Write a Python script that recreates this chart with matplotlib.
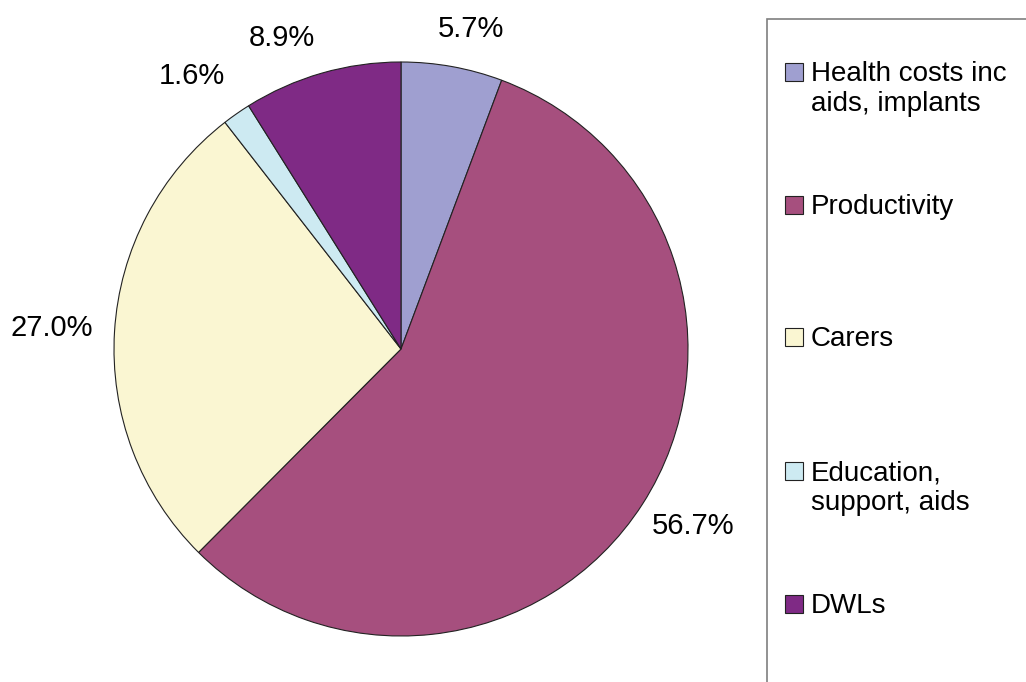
import matplotlib.pyplot as plt
import numpy as np
from matplotlib.patches import Rectangle

plt.rcParams["font.family"] = ["Liberation Sans", "DejaVu Sans"]

categories = ["Health costs inc\naids, implants", "Productivity", "Carers",
              "Education,\nsupport, aids", "DWLs"]
shares = [5.7, 56.7, 27.0, 1.6, 8.9]
colors = ["#9f9fd0", "#a64f7e", "#faf6d2", "#cdeaf2", "#7f2a85"]
# label placement: radius multiple and angular nudge (degrees) per wedge
label_dist = [1.14, 1.19, 1.22, 1.20, 1.16]
label_nudge = [-2.0, 1.5, 0.0, 2.5, 5.0]
# legend entry first-line vertical centres (pixels from top)
legend_y = [72, 205, 337, 471, 604]

W, H = 1026, 682
fig = plt.figure(figsize=(W / 100, H / 100), dpi=100)
cx, cy, r = 401, 349, 287
ax = fig.add_axes([(cx - r) / W, 1 - (cy + r) / H, 2 * r / W, 2 * r / H])
wedges, _ = ax.pie(shares, colors=colors, startangle=90, counterclock=False,
                   wedgeprops=dict(edgecolor="#222222", linewidth=0.8))
ax.set_xlim(-1, 1)
ax.set_ylim(-1, 1)
ax.set_aspect("equal")
ax.axis("off")

for w, val, d, nudge in zip(wedges, shares, label_dist, label_nudge):
    ang = np.deg2rad((w.theta1 + w.theta2) / 2 + nudge)
    ax.text(d * np.cos(ang), d * np.sin(ang), f"{val:.1f}%", ha="center",
            va="center", fontsize=21, clip_on=False)

# legend box, clipped by the right and bottom edges of the figure
fig.patches.append(Rectangle((767 / W, -0.1), 0.4, 1.1 - 19 / H,
                             transform=fig.transFigure, facecolor="white",
                             edgecolor="#7f7f7f", linewidth=1.2, zorder=0))
for lab, col, y in zip(categories, colors, legend_y):
    yf = 1 - y / H
    fig.patches.append(Rectangle((785 / W, yf - 9 / H), 18 / W, 18 / H,
                                 transform=fig.transFigure, facecolor=col,
                                 edgecolor="#222222", linewidth=0.8))
    fig.text(811 / W, yf + 11 / H, lab, ha="left", va="top", fontsize=20,
             linespacing=1.2)

fig.savefig("out.png", dpi=100)
